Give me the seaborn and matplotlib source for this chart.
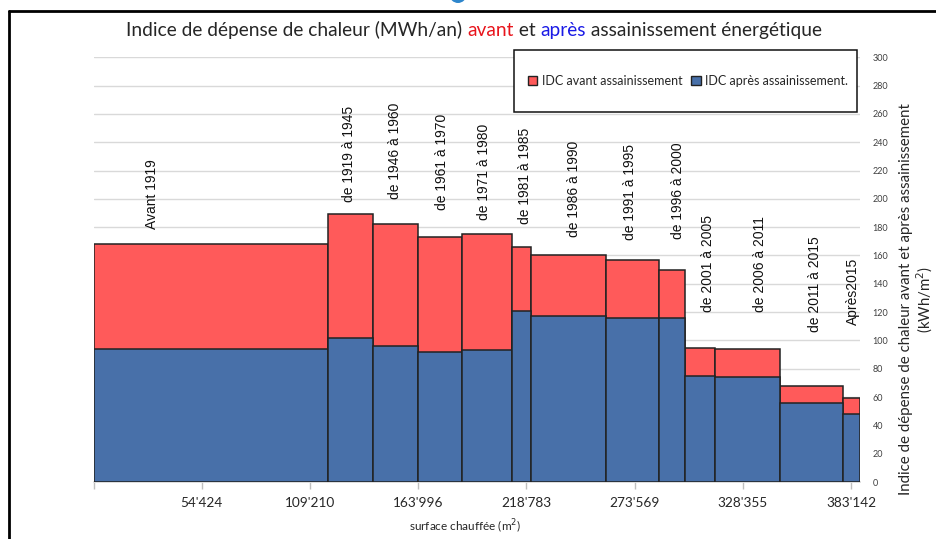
import matplotlib
matplotlib.use("Agg")
import matplotlib.pyplot as plt
from matplotlib.patches import Patch, Rectangle, Ellipse
from matplotlib.lines import Line2D
from matplotlib.offsetbox import TextArea, HPacker, AnnotationBbox
import numpy as np
import pandas as pd
import seaborn as sns

# Periodes de construction
periods = ['Avant 1919', 'de 1919 à 1945', 'de 1946 à 1960', 'de 1961 à 1970',
           'de 1971 à 1980', 'de 1981 à 1985', 'de 1986 à 1990', 'de 1991 à 1995',
           'de 1996 à 2000', 'de 2001 à 2005', 'de 2006 à 2011', 'de 2011 à 2015',
           'Après2015']

# Surface chauffee par periode (m2) -> largeur des barres
surface = [118200, 22800, 23100, 22300, 25200, 9500, 38100, 26800,
           13300, 15000, 32900, 31700, 8800]

# IDC (kWh/m2) avant et apres assainissement
idc_avant = [168, 189, 182, 173, 175, 166, 160, 157, 150, 95, 94, 68, 59]
idc_apres = [94, 102, 96, 92, 93, 121, 117, 116, 116, 75, 74.5, 56, 48]

# Graduations de l'axe x
x_ticks = [54424, 109210, 163996, 218783, 273569, 328355, 383142]

# mise en page des etiquettes (position dans la barre, bas du texte en kWh/m2)
label_frac = [0.25, 0.48, 0.49, 0.54, 0.44, 0.69, 0.57, 0.46, 0.72, 0.77, 0.7, 0.56, 0.58]
label_y = [179, 198, 200, 192, 185, 182, 173, 171, 172, 120, 120, 106, 111]

red = '#FF5A5A'
blue = '#4870A9'

sns.set_theme(style='white')
plt.rcParams['font.family'] = ['Lato', 'DejaVu Sans']

fig = plt.figure(figsize=(9.36, 5.39), dpi=100)
ax = fig.add_axes([94 / 936, 1 - 482 / 539, 766 / 936, 424.7 / 539])

edges = [0] + list(np.cumsum(surface))
df = pd.DataFrame({
    'centre': [(edges[i] + edges[i + 1]) / 2 for i in range(len(surface))],
    'avant': idc_avant,
    'apres': idc_apres,
})

sns.histplot(data=df, x='centre', weights='avant', bins=edges, color=red, alpha=1,
             edgecolor='#222222', linewidth=1.1, ax=ax, zorder=2)
sns.histplot(data=df, x='centre', weights='apres', bins=edges, color=blue, alpha=1,
             edgecolor='#222222', linewidth=1.1, ax=ax, zorder=3)

ax.set_xlim(0, edges[-1])
ax.set_ylim(0, 300)
ax.set_xlabel('')
ax.set_ylabel('')

# axe y a droite
ax.yaxis.tick_right()
ax.set_yticks(range(0, 301, 20))
ax.tick_params(axis='y', length=0, labelsize=6.5, labelcolor='#404040', pad=9)
ax.grid(axis='y', color='#D9D9D9', linewidth=1)
ax.set_axisbelow(True)

# axe x
ax.set_xticks([0] + x_ticks)
ax.set_xticklabels([''] + [f"{v:,}".replace(',', "'") for v in x_ticks])
ax.tick_params(axis='x', direction='out', length=5, color='#BFBFBF', width=1,
               labelsize=9.8, labelcolor='#262626', pad=6, bottom=True)
for side in ['top', 'right', 'left']:
    ax.spines[side].set_visible(False)
ax.spines['bottom'].set_color('#D9D9D9')

# etiquettes des periodes
for i, p in enumerate(periods):
    xl = edges[i] + label_frac[i] * surface[i]
    ax.text(xl, label_y[i], p, rotation=90, ha='center', va='bottom',
            fontsize=10, family=['Liberation Sans', 'DejaVu Sans'], color='#111111', zorder=4)

# titre multicolore
parts = [('Indice de dépense de chaleur (MWh/an) ', '#262626'), ('avant', '#E8141C'),
         (' et ', '#262626'), ('après', '#1A1AE6'), (' assainissement énergétique', '#262626')]
boxes = [TextArea(t, textprops=dict(color=c, fontsize=13.8)) for t, c in parts]
title = HPacker(children=boxes, align='baseline', pad=0, sep=0)
fig.add_artist(AnnotationBbox(title, (474 / 936, 1 - 30 / 539), xycoords='figure fraction',
                              frameon=False, box_alignment=(0.5, 0.5)))

# legende
leg_box = Rectangle((514 / 936, 1 - 112 / 539), 343 / 936, 62 / 539, transform=fig.transFigure,
                    facecolor='white', edgecolor='#111111', linewidth=1.1, zorder=5)
fig.patches.append(leg_box)
handles = [Patch(facecolor=red, edgecolor='#222222', label='IDC avant assainissement'),
           Patch(facecolor=blue, edgecolor='#222222', label='IDC après assainissement.')]
leg = fig.legend(handles=handles, loc='center', bbox_to_anchor=(688 / 936, 1 - 81 / 539),
                 ncol=2, frameon=False, fontsize=9, handlelength=0.75, handleheight=0.75,
                 handletextpad=0.35, columnspacing=0.7)
leg.set_zorder(6)

# titres des axes
fig.text(465 / 936, 1 - 527 / 539, 'surface chauffée (m$^2$)', ha='center', va='center',
         fontsize=8.5, color='#262626')
fig.text(917 / 936, 1 - 299 / 539,
         'Indice de dépense de chaleur avant et après assainissement\n(kWh/m$^2$)',
         rotation=90, ha='center', va='center', multialignment='center',
         fontsize=10.8, linespacing=1.05, color='#262626')

# cadre de la capture
fig.add_artist(Line2D([9 / 936, 1], [1 - 11 / 539, 1 - 11 / 539], color='black', linewidth=2))
fig.add_artist(Line2D([9 / 936, 9 / 936], [0, 1 - 11 / 539], color='black', linewidth=2))
fig.patches.append(Ellipse((458 / 936, 1 + 5.5 / 539), 17 / 936, 17 / 539,
                           transform=fig.transFigure, facecolor='#2E86CC', edgecolor='none'))

fig.savefig('out.png', dpi=100)
